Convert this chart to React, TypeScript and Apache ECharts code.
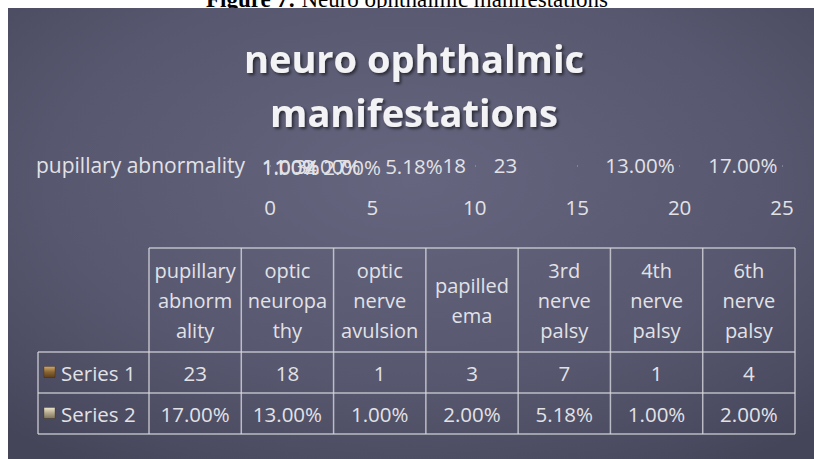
import React, { useEffect, useRef } from "react";
import * as echarts from "echarts";

const caption = "Neuro ophthalmic manifestations";
const captionLabel = "Figure 7:";
const titleText = "neuro ophthalmic\nmanifestations";
const categories = [
  "pupillary abnormality",
  "optic neuropathy",
  "optic nerve avulsion",
  "papilledema",
  "3rd nerve palsy",
  "4th nerve palsy",
  "6th nerve palsy",
];
const headerLabels = [
  "pupillary\nabnorm\nality",
  "optic\nneuropa\nthy",
  "optic\nnerve\navulsion",
  "papilled\nema",
  "3rd\nnerve\npalsy",
  "4th\nnerve\npalsy",
  "6th\nnerve\npalsy",
];
const seriesNames = ["Series 1", "Series 2"];
const series1 = [23, 18, 1, 3, 7, 1, 4];
const series2 = [0.17, 0.13, 0.01, 0.02, 0.0518, 0.01, 0.02];
const axisMin = 0;
const axisMax = 25;
const axisInterval = 5;

const FONT = "'Open Sans', 'Noto Sans', sans-serif";
const TXT = "#e2e2e6";
const LINE = "rgba(215,215,222,0.8)";

const pct = (v: number) => (v * 100).toFixed(2) + "%";

export default function App() {
  const ref = useRef<HTMLDivElement>(null);
  useEffect(() => {
    if (!ref.current) return;
    const chart = echarts.init(ref.current, null, { renderer: "svg" });

    const tL = 38, cL = 149, tR = 795;
    const hT = 248, r1T = 352, r2T = 393, tB = 434;
    const colW = (tR - cL) / categories.length;

    const g: any[] = [];
    g.push({
      type: "text",
      z: 0,
      style: {
        text: "{b|" + captionLabel + "} " + caption,
        x: 407,
        y: 11,
        align: "center",
        verticalAlign: "bottom",
        fontFamily: "'Liberation Serif', serif",
        fontSize: 23,
        fill: "#000",
        rich: { b: { fontWeight: "bold", fontFamily: "'Liberation Serif', serif", fontSize: 23 } },
      },
    });
    g.push({
      type: "rect",
      z: 1,
      shape: { x: 8, y: 8, width: 806, height: 451 },
      style: {
        fill: new echarts.graphic.RadialGradient(0.5, 0.38, 0.75, [
          { offset: 0, color: "#65657f" },
          { offset: 0.6, color: "#57576f" },
          { offset: 1, color: "#45455a" },
        ]),
      },
    });
    g.push({
      type: "text",
      z: 5,
      style: {
        text: titleText,
        x: 414,
        y: 85,
        align: "center",
        verticalAlign: "middle",
        fontFamily: FONT,
        fontWeight: "bold",
        fontSize: 38,
        lineHeight: 54,
        fill: "#f3f3f5",
        textShadowColor: "rgba(0,0,0,0.55)",
        textShadowBlur: 3,
        textShadowOffsetX: 2,
        textShadowOffsetY: 2,
      },
    });
    const hl = (x1: number, x2: number, y: number) =>
      g.push({ type: "line", z: 5, shape: { x1, y1: y, x2, y2: y }, style: { stroke: LINE, lineWidth: 1.5 } });
    const vl = (x: number, y1: number, y2: number) =>
      g.push({ type: "line", z: 5, shape: { x1: x, y1, x2: x, y2 }, style: { stroke: LINE, lineWidth: 1.5 } });
    hl(cL, tR, hT);
    hl(tL, tR, r1T);
    hl(tL, tR, r2T);
    hl(tL, tR, tB);
    vl(tL, r1T, tB);
    for (let i = 0; i <= categories.length; i++) vl(cL + i * colW, hT, tB);

    headerLabels.forEach((h, i) => {
      g.push({
        type: "text",
        z: 6,
        style: {
          text: h,
          x: cL + (i + 0.5) * colW,
          y: (hT + r1T) / 2,
          align: "center",
          verticalAlign: "middle",
          fontFamily: FONT,
          fontSize: 20,
          lineHeight: 30,
          fill: TXT,
        },
      });
    });
    const rows = [series1.map((v) => String(v)), series2.map(pct)];
    const rowTops = [r1T, r2T];
    const markerColors = [
      ["#d2aa6a", "#8a6434", "#5c3f1c"],
      ["#eee6cf", "#b3a88c", "#7c735e"],
    ];
    rows.forEach((vals, r) => {
      const cy = (rowTops[r] + (r === 0 ? r2T : tB)) / 2;
      g.push({
        type: "rect",
        z: 6,
        shape: { x: 44, y: cy - 6, width: 11, height: 11 },
        style: {
          fill: new echarts.graphic.LinearGradient(0, 0, 0, 1, [
            { offset: 0, color: markerColors[r][0] },
            { offset: 0.5, color: markerColors[r][1] },
            { offset: 1, color: markerColors[r][2] },
          ]),
          stroke: "rgba(40,30,20,0.6)",
          lineWidth: 0.5,
        },
      });
      g.push({
        type: "text",
        z: 6,
        style: {
          text: seriesNames[r],
          x: 61,
          y: cy,
          align: "left",
          verticalAlign: "middle",
          fontFamily: FONT,
          fontSize: 20.5,
          fill: TXT,
        },
      });
      vals.forEach((t, i) => {
        g.push({
          type: "text",
          z: 6,
          style: {
            text: t,
            x: cL + (i + 0.5) * colW,
            y: cy,
            align: "center",
            verticalAlign: "middle",
            fontFamily: FONT,
            fontSize: 20.5,
            fill: TXT,
          },
        });
      });
    });

    const labelStyle = {
      show: true,
      position: "inside",
      color: TXT,
      fontFamily: FONT,
      fontSize: 20.5,
    };

    chart.setOption({
      animation: false,
      backgroundColor: "#ffffff",
      graphic: g,
      grid: { left: 270, right: 32, top: 165, height: 2, containLabel: false, z: 10 },
      xAxis: {
        type: "value",
        min: axisMin,
        max: axisMax,
        interval: axisInterval,
        axisLine: { show: false },
        axisTick: { show: false },
        splitLine: { show: true, lineStyle: { color: "rgba(200,200,212,0.35)", width: 1 } },
        axisLabel: { color: TXT, fontFamily: FONT, fontSize: 20.5, margin: 29 },
        z: 10,
      },
      yAxis: {
        type: "category",
        data: categories,
        inverse: true,
        axisLine: { show: false },
        axisTick: { show: false },
        axisLabel: { color: TXT, fontFamily: FONT, fontSize: 21, margin: 25, interval: "auto" },
        z: 10,
      },
      series: [
        {
          name: seriesNames[0],
          type: "bar",
          stack: "total",
          data: series1,
          z: 10,
          itemStyle: { color: "rgba(0,0,0,0)" },
          label: labelStyle,
        },
        {
          name: seriesNames[1],
          type: "bar",
          stack: "total",
          data: series2,
          z: 10,
          itemStyle: { color: "rgba(0,0,0,0)" },
          label: { ...labelStyle, formatter: (p: any) => pct(p.value) },
        },
      ],
    });
    return () => chart.dispose();
  }, []);
  return (
    <div
      ref={ref}
      style={{ position: "fixed", left: 0, top: 0, width: 814, height: 459 }}
    />
  );
}
